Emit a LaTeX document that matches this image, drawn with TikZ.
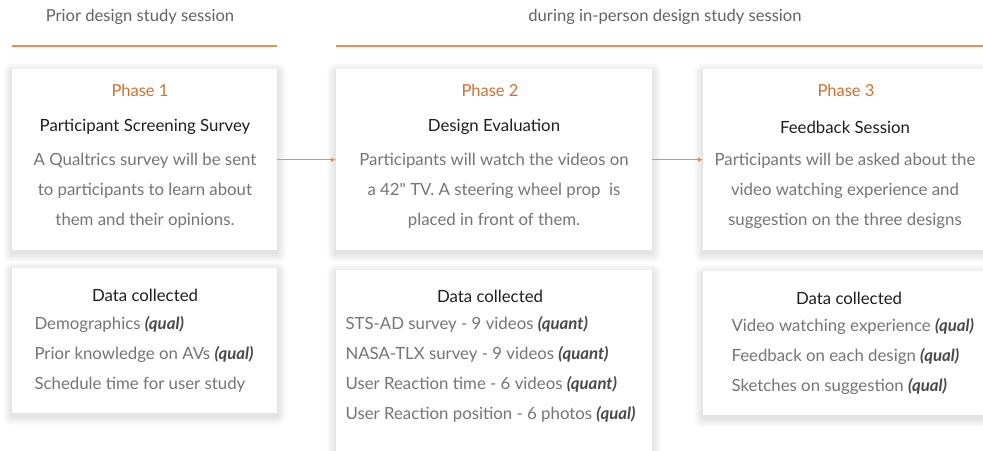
\documentclass[tikz,border=0pt]{standalone}
\usepackage{fontspec}
\setmainfont{Lato}
\usetikzlibrary{arrows.meta,backgrounds}
\definecolor{accent}{HTML}{EC8B52}
\definecolor{phasetxt}{HTML}{D2702F}
\definecolor{bodytxt}{HTML}{757575}
\definecolor{titletxt}{HTML}{1E1E1E}
\definecolor{qualtxt}{HTML}{4A4A4A}
\tikzset{
  card/.style={fill=white, inner sep=0pt, anchor=north west},
  haze/.style={fill=black, opacity=0.01},
  phase/.style={text=phasetxt, font=\fontsize{16.5}{18}\selectfont},
  heading/.style={text=titletxt, font=\fontsize{16.8}{18}\selectfont},
  body/.style={text=bodytxt, align=center, font=\fontsize{16.8}{30}\selectfont},
  items/.style={text=bodytxt, align=left, anchor=west, font=\fontsize{16.8}{30}\selectfont},
  session/.style={text=bodytxt!85!black, font=\fontsize{16.6}{18}\selectfont},
  flow/.style={draw=accent, line width=1.5pt, -{Latex[length=5pt,width=5pt]}}
}
\newcommand{\tag}[1]{{\color{qualtxt}\bfseries\itshape(#1)}}
\begin{document}
\begin{tikzpicture}[x=1pt,y=-1pt,line cap=round,line join=round]
  \useasboundingbox (0,0) rectangle (983,450);
  % session headers
  \node[session] (prior) at (140,17) {Prior design study session};
  \node[session] (during) at (665,17) {during in-person design study session};
  \draw[accent, line width=1.6pt, line cap=butt] (12,46) -- (277,46);
  \draw[accent, line width=1.6pt, line cap=butt] (336,46) -- (990,46);
  % phase cards
  \node[card, minimum width=265pt, minimum height=181pt] (card1) at (12,69) {};
  \node[card, minimum width=316pt, minimum height=181pt] (card2) at (336,69) {};
  \node[card, minimum width=290pt, minimum height=181pt] (card3) at (703,69) {};
  % data cards
  \node[card, minimum width=265pt, minimum height=145pt] (data1) at (12,268) {};
  \node[card, minimum width=316pt, minimum height=190pt] (data2) at (336,270) {};
  \node[card, minimum width=290pt, minimum height=144pt] (data3) at (703,271) {};
  % soft shadows under the cards
  \begin{scope}[on background layer]
    \fill[white] (0,0) rectangle (983,450);
    \foreach \c in {card1,card2,card3,data1,data2,data3}
      \foreach \r in {1,...,9}
        \fill[haze, rounded corners=\r pt]
          ([xshift=-\r pt, yshift={\r pt-3pt}]\c.north west) rectangle
          ([xshift=\r pt, yshift={-\r pt-3pt}]\c.south east);
  \end{scope}
  % phase 1
  \node[phase] (ph1) at (140,90) {Phase 1};
  \node[heading] (t1) at (145,127) {Participant Screening Survey};
  \node[body] (b1) at (145,191) {A Qualtrics survey will be sent\\to participants to learn about\\them and their opinions.};
  % phase 2
  \node[phase] (ph2) at (490,90) {Phase 2};
  \node[heading] (t2) at (494,127) {Design Evaluation};
  \node[body] (b2) at (494,191) {Participants will watch the videos on\\a 42\textquotedbl{} TV. A steering wheel prop\ \ is\\placed in front of them.};
  % phase 3
  \node[phase] (ph3) at (846,90) {Phase 3};
  \node[heading] (t3) at (845,127) {Feedback Session};
  \node[body] (b3) at (845,191) {Participants will be asked about the\\video watching experience and\\suggestion on the three designs};
  % data collected
  \node[heading] (d1) at (145,295) {Data collected};
  \node[items] (l1) at (31,354) {Demographics \tag{qual}\\Prior knowledge on AVs \tag{qual}\\Schedule time for user study};
  \node[heading] (d2) at (490,296) {Data collected};
  \node[items] (l2) at (342,369) {STS-AD survey - 9 videos \tag{quant}\\NASA-TLX survey - 9 videos \tag{quant}\\User Reaction time - 6 videos \tag{quant}\\User Reaction position - 6 photos \tag{qual}};
  \node[heading] (d3) at (849,298) {Data collected};
  \node[items] (l3) at (728,356) {Video watching experience \tag{qual}\\Feedback on each design \tag{qual}\\Sketches on suggestion \tag{qual}};
  % flow arrows
  \draw[flow] (card1.east) -- (card2.west);
  \draw[flow] (card2.east) -- (card3.west);
\end{tikzpicture}
\end{document}
